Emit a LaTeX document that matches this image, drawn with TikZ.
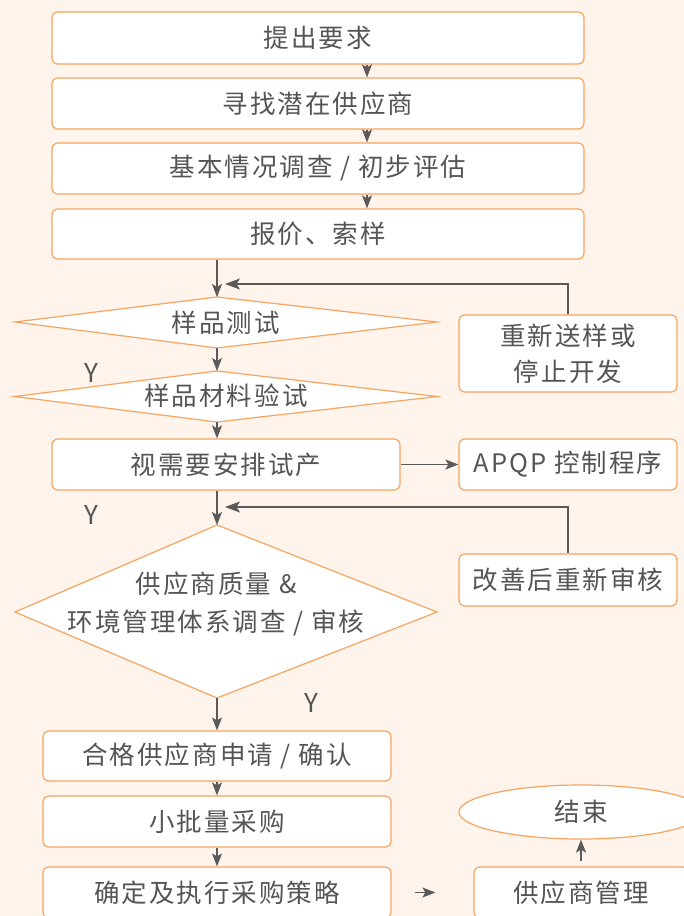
\documentclass[tikz,border=0pt]{standalone}
\usepackage{fontspec}
\setmainfont{Noto Sans CJK SC}[LetterSpace=8]
\usetikzlibrary{arrows.meta,shapes.geometric}
\definecolor{bgc}{HTML}{FEF4EB}
\definecolor{orangec}{HTML}{F7A461}
\definecolor{textc}{HTML}{555555}
\definecolor{linec}{HTML}{5A5A5A}
\tikzset{
  box/.style={draw=orangec, fill=white, rounded corners=6pt, line width=1.2pt, text=textc,
    font=\fontsize{25.5}{36}\selectfont, align=center, inner sep=0pt},
  ellbox/.style={ellipse, draw=orangec, fill=white, line width=1.2pt, text=textc,
    font=\fontsize{25.5}{36}\selectfont, inner sep=0pt},
  dia/.style={draw=orangec, fill=white, line width=1.2pt},
  diatext/.style={text=textc, font=\fontsize{25.5}{38}\selectfont, align=center, inner sep=0pt},
  ylab/.style={text=textc, font=\fontsize{26}{30}\selectfont, inner sep=0pt},
  arr/.style={draw=linec, line width=1.4pt, -{Stealth[length=13pt,width=10pt,inset=3pt]}},
  fbline/.style={draw=linec, line width=1.2pt, -{Stealth[length=15pt,width=11pt,inset=3.5pt]}}
}
\begin{document}
\begin{tikzpicture}[x=1pt,y=-1pt]
\fill[bgc] (0,0) rectangle (684,916);
\useasboundingbox (0,0) rectangle (684,916);
\clip (0,0) rectangle (684,916);

\coordinate (ax) at (367,0);
\coordinate (mx) at (217,0);

% top boxes
\node[box, minimum width=532pt, minimum height=52pt] (b1) at (318,38) {提出要求};
\node[box, minimum width=532pt, minimum height=51pt] (b2) at (318,103.5) {寻找潜在供应商};
\node[box, minimum width=532pt, minimum height=51pt] (b3) at (318,168.5) {基本情况调查 / 初步评估};
\node[box, minimum width=532pt, minimum height=50pt] (b4) at (318,234) {报价、索样};

% diamond 1
\coordinate (d1l) at (15,322);
\coordinate (d1t) at (217,297);
\coordinate (d1r) at (437,322);
\coordinate (d1b) at (217,348);
\draw[dia] (d1l) -- (d1t) -- (d1r) -- (d1b) -- cycle;
\node[diatext] (d1) at (226,323) {样品测试};

% diamond 2
\coordinate (d2l) at (15,396.5);
\coordinate (d2t) at (217,371);
\coordinate (d2r) at (437,396.5);
\coordinate (d2b) at (217,422);
\draw[dia] (d2l) -- (d2t) -- (d2r) -- (d2b) -- cycle;
\node[diatext] (d2) at (226,396) {样品材料验试};

% big diamond
\coordinate (d3l) at (15,612);
\coordinate (d3t) at (217,525);
\coordinate (d3r) at (437,612);
\coordinate (d3b) at (217,698);
\draw[dia] (d3l) -- (d3t) -- (d3r) -- (d3b) -- cycle;
\node[diatext] (d3) at (216,604) {供应商质量 \&\\环境管理体系调查 / 审核};

% side boxes
\node[box, minimum width=218pt, minimum height=77pt] (r1) at (568,353.5) {重新送样或\\停止开发};
\node[box, minimum width=348pt, minimum height=51pt] (c1) at (226,464.5) {视需要安排试产};
\node[box, minimum width=218pt, minimum height=51pt] (r2) at (568,464.5) {APQP 控制程序};
\node[box, minimum width=218pt, minimum height=52pt] (r3) at (568,580) {改善后重新审核};

% bottom boxes
\node[box, minimum width=348pt, minimum height=50pt] (c2) at (217,756) {合格供应商申请 / 确认};
\node[box, minimum width=348pt, minimum height=51pt] (c3) at (217,821.5) {小批量采购};
\node[box, minimum width=348pt, minimum height=51pt] (c4) at (217,892.5) {确定及执行采购策略};
\node[box, minimum width=214pt, minimum height=51pt] (e2) at (581,892.5) {供应商管理};
\node[ellbox, minimum width=244pt, minimum height=54pt] (end) at (581,812) {结束};

% Y labels
\node[ylab] (y1) at (91,373) {Y};
\node[ylab] (y2) at (91,515) {Y};
\node[ylab] (y3) at (311,703) {Y};

% feedback targets
\coordinate (fb1) at (225,284);
\coordinate (fb2) at (225,507);

% arrows
\draw[arr] (b1.south -| ax) -- (b2.north -| ax);
\draw[arr] (b2.south -| ax) -- (b3.north -| ax);
\draw[arr] (b3.south -| ax) -- (b4.north -| ax);
\draw[arr] (b4.south -| mx) -- (d1t);
\draw[arr] (d1b) -- (d2t);
\draw[arr] (d2b) -- (c1.north -| mx);
\draw[arr] (c1.south -| mx) -- (d3t);
\draw[arr] (d3b) -- (c2.north -| mx);
\draw[arr] (c2.south -| mx) -- (c3.north -| mx);
\draw[arr] (c3.south -| mx) -- (c4.north -| mx);
\draw[arr] (c1.east) -- (r2.west);
\draw[fbline] (r1.north) |- (fb1);
\draw[fbline] (r3.north) |- (fb2);
\draw[arr, shorten <=23pt, shorten >=38pt] (c4.east) -- (e2.west);
\draw[arr, shorten <=5pt] (e2.north) -- (end.south);
\end{tikzpicture}
\end{document}
